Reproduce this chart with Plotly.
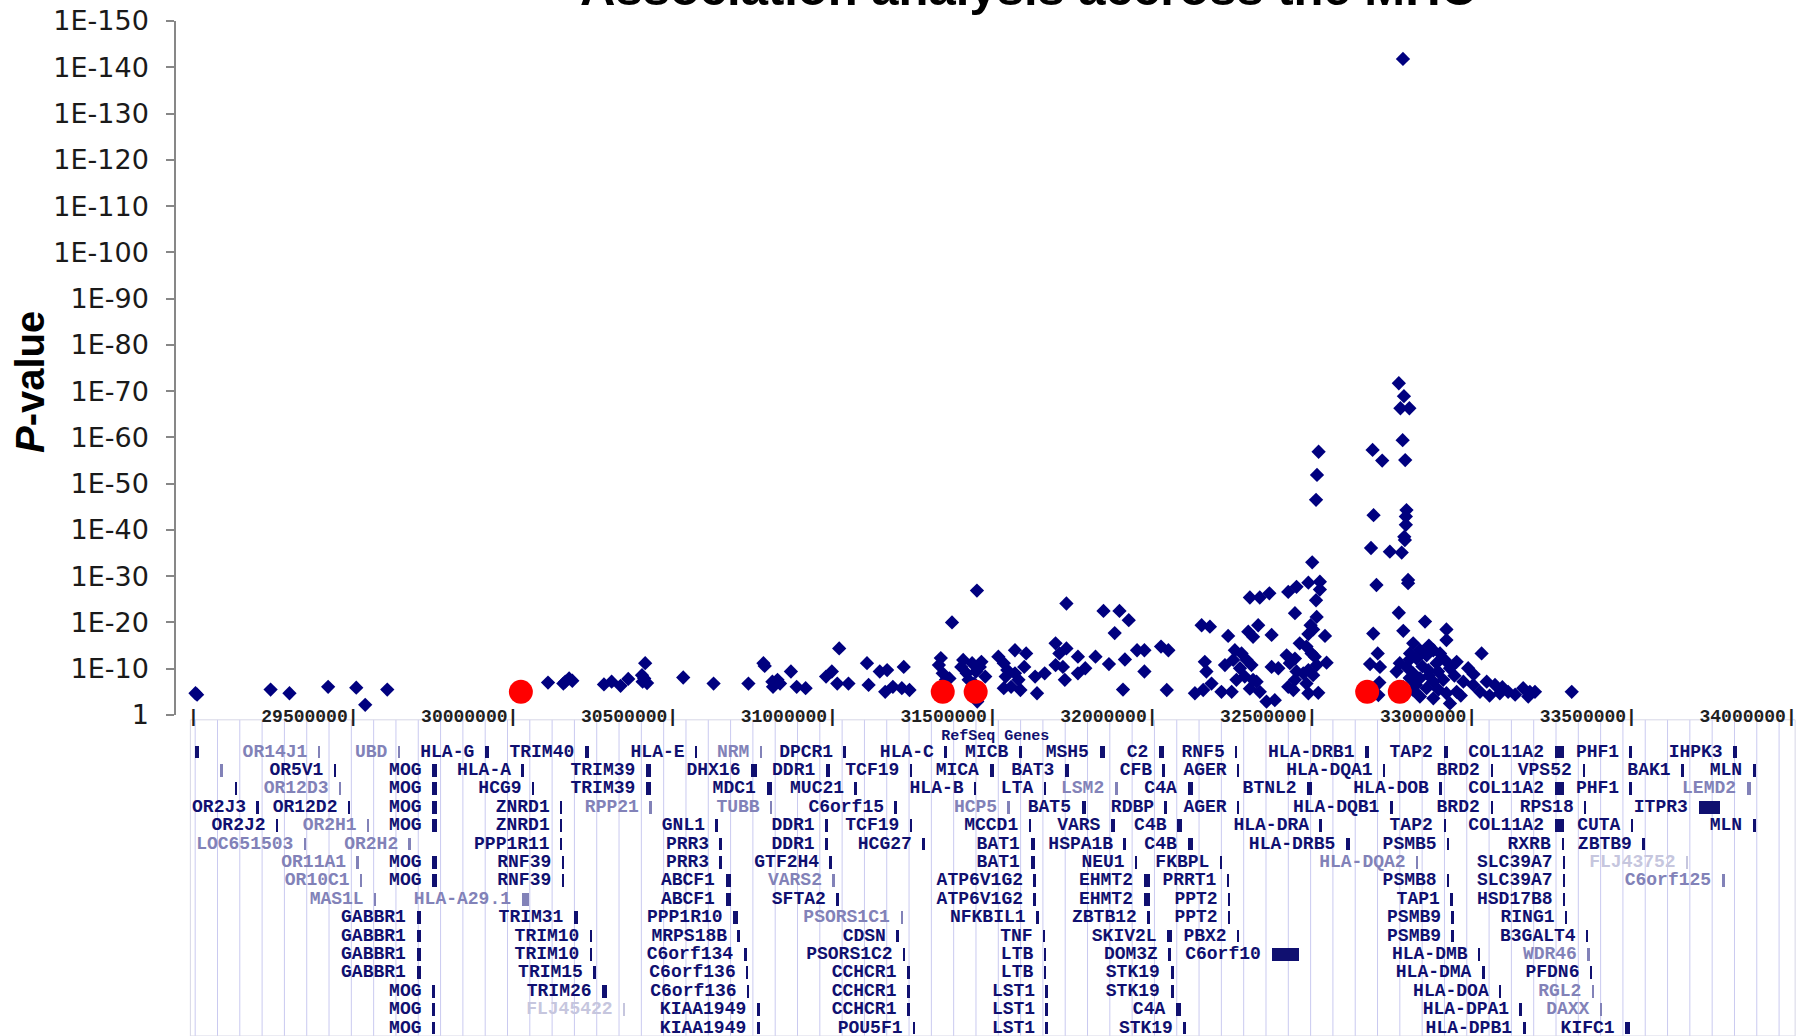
import numpy as np
import plotly.graph_objects as go

# ---------------- association data (position in Mb, -log10 P) ----------------
snp_pos_mb = [
    29.001, 29.006, 29.236, 29.295, 29.416, 29.504, 29.532, 29.601,
    30.104, 30.152, 30.158, 30.170, 30.180, 30.279, 30.303, 30.331, 30.355,
    30.398, 30.400, 30.408, 30.414, 30.405, 30.527, 30.622,
    30.731, 30.778, 30.782, 30.806, 30.808, 30.822, 30.830, 30.864, 30.882, 30.910,
    30.974, 30.992, 31.009, 31.044, 31.015, 31.102, 31.107,
    31.142, 31.165, 31.159, 31.183, 31.217, 31.211, 31.235,
    31.333, 31.327, 31.339, 31.349, 31.360, 31.368, 31.446,
    31.403, 31.397, 31.431, 31.460, 31.443, 31.414, 31.437, 31.447, 31.420, 31.455, 31.472,
    31.513, 31.530, 31.565, 31.600, 31.536, 31.565, 31.576, 31.553, 31.530, 31.582, 31.594, 31.541,
    31.628, 31.634, 31.658, 31.692, 31.704, 31.715, 31.721, 31.692, 31.726, 31.726,
    31.762, 31.785, 31.762, 31.817, 31.859, 31.877, 31.909, 31.903, 31.947, 31.970, 31.970,
    32.022, 32.045, 32.040, 31.842, 31.892, 31.921,
    32.149, 32.175, 32.232, 32.326, 32.295, 32.310, 32.368,
    32.300, 32.331, 32.361, 32.420, 32.446, 32.483, 32.519, 32.519, 32.495,
    32.515, 32.510, 32.507, 32.507, 32.509, 32.441, 32.490, 32.498, 32.535, 32.483,
    32.159, 32.164, 32.180, 32.128, 32.154, 32.211,
    32.222, 32.253, 32.248, 32.274, 32.269, 32.290, 32.284, 32.305, 32.310, 32.258, 32.243, 32.321, 32.300, 32.331,
    32.368, 32.389, 32.415, 32.425, 32.441, 32.446, 32.456, 32.477, 32.493, 32.503, 32.540, 32.509,
    32.483, 32.467, 32.498, 32.441, 32.477, 32.514, 32.483, 32.436, 32.420, 32.352, 32.378,
    32.684, 32.714, 32.687, 32.679, 32.738, 32.696, 32.686, 32.700, 32.676, 32.707, 32.705, 32.702,
    32.779, 32.766, 32.782, 32.771, 32.799, 32.778, 32.786, 32.790, 32.788, 32.788, 32.783, 32.785,
    32.775, 32.795, 32.795, 32.766, 32.780,
    32.848, 32.915, 32.811, 32.832, 32.801, 32.822, 32.853, 32.874, 32.895, 32.915, 32.910, 32.884,
    32.769, 32.759, 32.790, 32.811, 32.832, 32.858, 32.889, 32.926, 32.905, 32.874, 32.853, 32.811,
    32.790, 32.832, 32.874, 32.915, 32.926, 32.947, 32.983, 33.025, 32.999, 33.041, 33.067, 33.082,
    33.108, 33.155, 33.176, 33.171, 33.192, 33.307, 32.947, 32.968, 33.020,
    32.800, 32.820, 32.840, 32.860, 32.780, 32.800, 32.860, 32.890, 32.940, 32.960, 33.000, 33.050,
    33.130, 33.090,
]
snp_logp = [
    4.7, 4.4, 5.5, 4.7, 6.1, 5.9, 2.2, 5.5,
    7.0, 6.8, 7.2, 7.9, 7.4, 6.6, 7.2, 6.3, 7.8,
    8.6, 7.2, 11.2, 6.9, 7.9, 8.1, 6.8,
    6.8, 11.2, 10.6, 7.2, 6.1, 7.6, 6.8, 9.4, 6.1, 5.8,
    8.3, 9.4, 6.8, 6.8, 14.4, 11.2, 6.5,
    9.4, 9.7, 5.0, 6.1, 10.4, 5.8, 5.4,
    12.3, 10.8, 9.0, 7.6, 7.9, 20.0, 26.9,
    11.9, 10.4, 11.2, 11.5, 9.4, 9.0, 6.8, 2.9, 7.6, 10.4, 8.3,
    12.6, 11.2, 14.0, 13.3, 8.3, 9.0, 7.6, 6.1, 5.8, 5.4, 10.4, 9.7,
    8.3, 4.7, 9.0, 15.5, 13.3, 10.4, 7.6, 10.8, 14.4, 24.1,
    12.6, 10.1, 9.0, 12.6, 11.0, 17.7, 12.0, 5.5, 14.0, 14.0, 9.4,
    14.8, 14.0, 5.4, 22.5, 22.5, 20.5,
    19.4, 19.1, 17.1, 19.4, 18.0, 16.9, 17.3,
    25.4, 25.4, 26.3, 26.6, 27.7, 28.6, 28.8, 27.1, 33.0,
    56.9, 51.9, 46.5, 24.8, 21.2, 22.0, 19.4, 18.5, 17.1, 17.5,
    11.5, 9.4, 6.8, 4.7, 5.4, 5.0,
    10.8, 14.0, 11.9, 13.3, 10.1, 11.9, 8.3, 10.8, 7.6, 7.6, 5.0, 7.2, 5.7, 5.0,
    10.4, 10.1, 12.9, 11.2, 12.2, 9.4, 15.5, 14.8, 13.3, 12.6, 11.3, 10.8,
    9.7, 9.0, 8.6, 7.6, 6.8, 4.8, 4.7, 5.4, 6.1, 2.9, 3.2,
    57.3, 55.0, 43.2, 36.1, 35.3, 28.1, 17.6, 13.3, 11.0, 10.4, 7.0, 4.3,
    141.8, 71.7, 68.9, 66.3, 66.3, 59.4, 55.1, 44.3, 42.9, 41.1, 38.5, 37.8,
    35.1, 29.2, 28.5, 22.1, 18.2,
    20.2, 18.5, 15.5, 14.0, 13.3, 12.2, 12.9, 14.0, 13.3, 16.2, 11.9, 11.2,
    11.2, 9.4, 10.4, 9.0, 7.9, 9.7, 9.4, 10.1, 7.6, 7.2, 5.8, 5.4,
    4.7, 4.0, 3.6, 4.7, 2.5, 11.5, 10.1, 13.3, 6.5, 7.2, 6.5, 4.7,
    5.0, 5.8, 5.0, 4.0, 5.0, 5.0, 5.0, 7.2, 5.0,
    8.0, 6.5, 10.5, 8.5, 6.0, 12.0, 15.0, 5.5, 8.5, 4.2, 8.8, 4.2,
    4.4, 6.0,
]
red_pos_mb = [30.019, 31.339, 31.442, 32.667, 32.769]
red_logp = [5.0, 5.0, 5.0, 5.0, 5.0]

y_tick_vals = [0, 10, 20, 30, 40, 50, 60, 70, 80, 90, 100, 110, 120, 130, 140, 150]
y_tick_text = ["1", "1E-10", "1E-20", "1E-30", "1E-40", "1E-50", "1E-60", "1E-70",
               "1E-80", "1E-90", "1E-100", "1E-110", "1E-120", "1E-130", "1E-140", "1E-150"]

# ---------------- RefSeq gene track ----------------
track_tick_pos = [29.0, 29.5, 30.0, 30.5, 31.0, 31.5, 32.0, 32.5, 33.0, 33.5, 34.0]
track_tick_text = ["|", "29500000|", "30000000|", "30500000|", "31000000|", "31500000|",
                   "32000000|", "32500000|", "33000000|", "33500000|", "34000000|"]

gene_names = [
    "", "OR14J1", "UBD", "HLA-G", "TRIM40", "HLA-E", "NRM", "DPCR1", "HLA-C", "MICB", "MSH5", "C2", "RNF5",
    "HLA-DRB1", "TAP2", "COL11A2", "PHF1", "IHPK3",
    "", "OR5V1", "MOG", "HLA-A", "TRIM39", "DHX16", "DDR1", "TCF19", "MICA", "BAT3", "CFB", "AGER",
    "HLA-DQA1", "BRD2", "VPS52", "BAK1", "MLN",
    "", "OR12D3", "MOG", "HCG9", "TRIM39", "MDC1", "MUC21", "HLA-B", "LTA", "LSM2", "C4A", "BTNL2",
    "HLA-DOB", "COL11A2", "PHF1", "LEMD2",
    "OR2J3", "OR12D2", "MOG", "ZNRD1", "RPP21", "TUBB", "C6orf15", "HCP5", "BAT5", "RDBP", "AGER",
    "HLA-DQB1", "BRD2", "RPS18", "ITPR3",
    "OR2J2", "OR2H1", "MOG", "ZNRD1", "GNL1", "DDR1", "TCF19", "MCCD1", "VARS", "C4B", "HLA-DRA",
    "TAP2", "COL11A2", "CUTA", "MLN",
    "LOC651503", "OR2H2", "PPP1R11", "PRR3", "DDR1", "HCG27", "BAT1", "HSPA1B", "C4B", "HLA-DRB5",
    "PSMB5", "RXRB", "ZBTB9",
    "OR11A1", "MOG", "RNF39", "PRR3", "GTF2H4", "BAT1", "NEU1", "FKBPL", "HLA-DQA2", "SLC39A7", "FLJ43752",
    "OR10C1", "MOG", "RNF39", "ABCF1", "VARS2", "ATP6V1G2", "EHMT2", "PRRT1", "PSMB8", "SLC39A7", "C6orf125",
    "MAS1L", "HLA-A29.1", "ABCF1", "SFTA2", "ATP6V1G2", "EHMT2", "PPT2", "TAP1", "HSD17B8",
    "GABBR1", "TRIM31", "PPP1R10", "PSORS1C1", "NFKBIL1", "ZBTB12", "PPT2", "PSMB9", "RING1",
    "GABBR1", "TRIM10", "MRPS18B", "CDSN", "TNF", "SKIV2L", "PBX2", "PSMB9", "B3GALT4",
    "GABBR1", "TRIM10", "C6orf134", "PSORS1C2", "LTB", "DOM3Z", "C6orf10", "HLA-DMB", "WDR46",
    "GABBR1", "TRIM15", "C6orf136", "CCHCR1", "LTB", "STK19", "HLA-DMA", "PFDN6",
    "MOG", "TRIM26", "C6orf136", "CCHCR1", "LST1", "STK19", "HLA-DOA", "RGL2",
    "MOG", "FLJ45422", "KIAA1949", "CCHCR1", "LST1", "C4A", "HLA-DPA1", "DAXX",
    "MOG", "KIAA1949", "POU5F1", "LST1", "STK19", "HLA-DPB1", "KIFC1",
]
gene_start_mb = [
    28.998, 29.385, 29.635, 29.907, 30.220, 30.565, 30.768, 31.030, 31.345, 31.578, 31.830, 32.016, 32.255,
    32.661, 32.906, 33.254, 33.489, 33.813,
    29.078, 29.435, 29.742, 30.022, 30.411, 30.740, 30.974, 31.237, 31.486, 31.722, 32.028, 32.261,
    32.718, 33.053, 33.341, 33.650, 33.874,
    29.125, 29.451, 29.742, 30.055, 30.411, 30.788, 31.064, 31.438, 31.656, 31.878, 32.105, 32.480,
    32.894, 33.254, 33.489, 33.855,
    29.193, 29.479, 29.742, 30.143, 30.422, 30.800, 31.189, 31.543, 31.774, 32.034, 32.261,
    32.739, 33.053, 33.347, 33.704,
    29.254, 29.539, 29.742, 30.143, 30.629, 30.972, 31.237, 31.609, 31.866, 32.073, 32.519,
    32.906, 33.254, 33.493, 33.874,
    29.341, 29.669, 30.143, 30.642, 30.972, 31.276, 31.614, 31.906, 32.105, 32.601,
    32.918, 33.275, 33.529,
    29.506, 29.742, 30.148, 30.642, 30.986, 31.614, 31.942, 32.207, 32.821, 33.281, 33.666,
    29.517, 29.742, 30.148, 30.660, 30.995, 31.624, 31.968, 32.229, 32.918, 33.281, 33.777,
    29.561, 30.022, 30.660, 31.007, 31.624, 31.968, 32.233, 32.928, 33.281,
    29.693, 30.186, 30.684, 31.207, 31.632, 31.980, 32.233, 32.932, 33.287,
    29.693, 30.236, 30.698, 31.195, 31.654, 32.042, 32.261, 32.932, 33.353,
    29.693, 30.236, 30.717, 31.216, 31.656, 32.046, 32.368, 33.015, 33.357,
    29.693, 30.247, 30.725, 31.228, 31.656, 32.052, 33.027, 33.365,
    29.742, 30.274, 30.728, 31.228, 31.662, 32.052, 33.081, 33.371,
    29.742, 30.340, 30.758, 31.228, 31.662, 32.069, 33.145, 33.396,
    29.742, 30.758, 31.247, 31.662, 32.093, 33.154, 33.475,
]
gene_row = (
    [1] * 18 + [2] * 17 + [3] * 16 + [4] * 15 + [5] * 15 + [6] * 13 + [7] * 11 + [8] * 11 +
    [9] * 9 + [10] * 9 + [11] * 9 + [12] * 9 + [13] * 8 + [14] * 8 + [15] * 8 + [16] * 7
)
gene_len_kb = [
    13, 6, 6, 13, 13, 6, 6, 6, 6, 9, 16, 16, 6, 13, 13, 30, 6, 12,
    9, 6, 16, 6, 16, 19, 13, 6, 13, 13, 6, 6, 6, 9, 9, 9, 9,
    6, 6, 16, 6, 16, 16, 6, 6, 6, 9, 16, 13, 6, 30, 6, 13,
    6, 6, 16, 6, 6, 6, 6, 6, 13, 6, 6, 9, 9, 6, 66,
    6, 6, 16, 6, 6, 9, 6, 6, 13, 16, 6, 9, 30, 6, 9,
    6, 6, 6, 6, 9, 6, 13, 6, 16, 13, 6, 9, 6,
    6, 16, 6, 6, 6, 13, 6, 6, 6, 6, 6,
    6, 16, 6, 16, 6, 6, 19, 6, 6, 6, 9,
    6, 21, 16, 6, 6, 19, 6, 6, 6,
    13, 13, 13, 9, 9, 6, 6, 6, 6,
    13, 6, 6, 6, 6, 13, 6, 6, 6,
    13, 6, 9, 6, 6, 6, 85, 6, 6,
    13, 6, 6, 9, 6, 9, 9, 6,
    9, 13, 6, 9, 6, 9, 6, 6,
    9, 6, 9, 9, 6, 16, 6, 6,
    9, 9, 6, 6, 6, 9, 13,
]
# 0 = reviewed (dark), 1 = provisional (light), 2 = predicted (very light)
gene_shade = [
    0, 1, 1, 0, 0, 0, 1, 0, 0, 0, 0, 0, 0, 0, 0, 0, 0, 0,
    1, 0, 0, 0, 0, 0, 0, 0, 0, 0, 0, 0, 0, 0, 0, 0, 0,
    0, 1, 0, 0, 0, 0, 0, 0, 0, 1, 0, 0, 0, 0, 0, 1,
    0, 0, 0, 0, 1, 1, 0, 1, 0, 0, 0, 0, 0, 0, 0,
    0, 1, 0, 0, 0, 0, 0, 0, 0, 0, 0, 0, 0, 0, 0,
    1, 1, 0, 0, 0, 0, 0, 0, 0, 0, 0, 0, 0,
    1, 0, 0, 0, 0, 0, 0, 0, 1, 0, 2,
    1, 0, 0, 0, 1, 0, 0, 0, 0, 0, 1,
    1, 1, 0, 0, 0, 0, 0, 0, 0,
    0, 0, 0, 1, 0, 0, 0, 0, 0,
    0, 0, 0, 0, 0, 0, 0, 0, 0,
    0, 0, 0, 0, 0, 0, 0, 0, 1,
    0, 0, 0, 0, 0, 0, 0, 0,
    0, 0, 0, 0, 0, 0, 0, 1,
    0, 2, 0, 0, 0, 0, 0, 1,
    0, 0, 0, 0, 0, 0, 0,
]

# ---------------- styling ----------------
NAVY = "#00007f"
shade_colors = {0: "#101070", 1: "#8282b8", 2: "#c6c6de"}
gene_colors = [shade_colors[s] for s in gene_shade]
MONO = "Liberation Mono, DejaVu Sans Mono, monospace"
GENE_FONT = 18
NBSP = "\u00a0"
half_char_mb = 0.011  # nudge so the ruler bar sits on its coordinate

fig = go.Figure()

# gene glyphs
fig.add_trace(go.Bar(
    orientation="h", base=gene_start_mb, x=[k / 1000.0 for k in gene_len_kb], y=gene_row,
    yaxis="y2", width=0.7, marker=dict(color=gene_colors, line=dict(width=0)),
    hoverinfo="skip",
))
# gene labels
fig.add_trace(go.Scatter(
    x=gene_start_mb, y=gene_row, yaxis="y2", mode="text",
    text=[n + NBSP if n else "" for n in gene_names],
    textposition="middle left", cliponaxis=False,
    textfont=dict(family=MONO, size=GENE_FONT, color=gene_colors, weight="bold"), hoverinfo="skip",
))
# coordinate ruler
fig.add_trace(go.Scatter(
    x=[p + half_char_mb for p in track_tick_pos], y=[-0.85] * len(track_tick_pos), yaxis="y2",
    mode="text", text=track_tick_text, textposition="middle left", cliponaxis=False,
    textfont=dict(family=MONO, size=GENE_FONT, color="#202020", weight="bold"), hoverinfo="skip",
))
fig.add_trace(go.Scatter(
    x=[31.503], y=[0.15], yaxis="y2", mode="text", text=["RefSeq Genes"],
    textposition="middle center", cliponaxis=False,
    textfont=dict(family=MONO, size=15, color="#101070", weight="bold"), hoverinfo="skip",
))

# association scatter
fig.add_trace(go.Scatter(
    x=snp_pos_mb, y=snp_logp, mode="markers", cliponaxis=False,
    marker=dict(symbol="diamond", size=11, color=NAVY, line=dict(width=0)),
))
fig.add_trace(go.Scatter(
    x=red_pos_mb, y=red_logp, mode="markers", cliponaxis=False,
    marker=dict(symbol="circle", size=24, color="#ff0000", line=dict(width=0)),
))

# light vertical guide lines in the gene track
shapes = []
for gx in np.arange(29.0, 34.01, 0.0698):
    shapes.append(dict(type="line", xref="x", yref="y2 domain", x0=gx, x1=gx, y0=0, y1=0.985,
                       line=dict(color="#cacaf0", width=1), layer="below"))
shapes.append(dict(type="rect", xref="x", yref="y2 domain", x0=28.985, x1=34.006, y0=0.0, y1=0.985,
                   line=dict(color="#d6d6e6", width=1), layer="below"))
fig.update_layout(shapes=shapes)

split = (1036 - 715) / 1015.0
fig.update_layout(
    width=1806, height=1036, autosize=False,
    margin=dict(l=176, r=0, t=21, b=0, pad=0, autoexpand=False),
    paper_bgcolor="white", plot_bgcolor="white",
    showlegend=False, barmode="overlay", bargap=0,
    xaxis=dict(range=[28.940, 34.040], visible=False, fixedrange=True, automargin=False),
    yaxis=dict(
        domain=[split, 1], range=[0, 150], tickmode="array",
        tickvals=y_tick_vals, ticktext=y_tick_text,
        showline=True, linecolor="#878787", linewidth=1.5,
        ticks="outside", ticklen=8, tickcolor="#878787", tickwidth=1.5,
        ticklabelstandoff=12, automargin=False,
        tickfont=dict(family="DejaVu Sans, Liberation Sans, sans-serif", size=27, color="#1a1a1a"),
        showgrid=False, zeroline=False, anchor="x",
    ),
    yaxis2=dict(domain=[0, split], range=[16.435, -1.011], visible=False, anchor="x", automargin=False),
    annotations=[
        dict(text="<b>Association analysis accross the MHC</b>", xref="paper", yref="paper",
             x=(1028 - 176) / 1630.0, y=(1036 - 17) / 1015.0, xanchor="center", yanchor="bottom",
             showarrow=False, font=dict(family="Liberation Sans, Arial, sans-serif", size=49, color="#000000")),
        dict(text="<b><i>P</i>-value</b>", xref="paper", yref="paper", textangle=-90,
             x=(30 - 176) / 1630.0, y=(1036 - 382) / 1015.0, xanchor="center", yanchor="middle",
             showarrow=False, font=dict(family="Liberation Sans, Arial, sans-serif", size=40, color="#000000")),
    ],
)

fig.write_html("out.html")
